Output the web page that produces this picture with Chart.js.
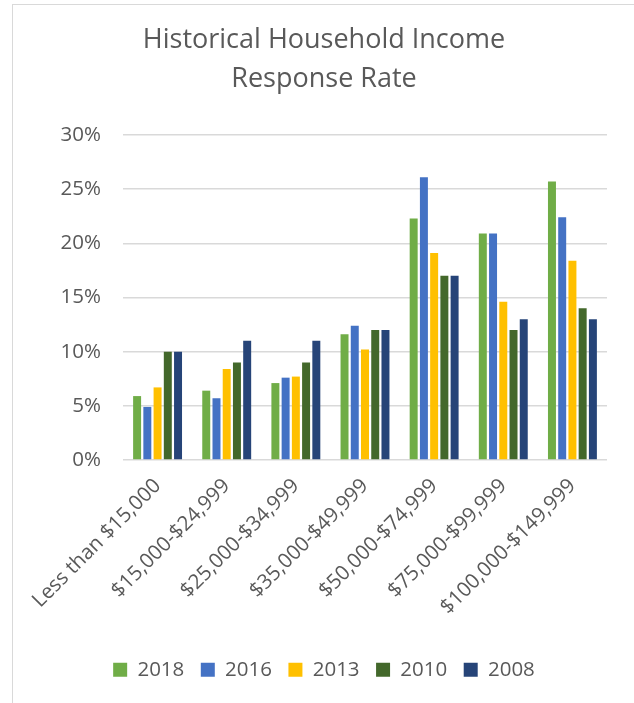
<!DOCTYPE html>
<html>
<head>
<meta charset="utf-8">
<title>Historical Household Income Response Rate</title>
<script src="https://cdn.jsdelivr.net/npm/chart.js@4"></script>
<style>
  html, body { margin: 0; padding: 0; background: #fff; }
  #wrap { position: relative; width: 634px; height: 703px; overflow: hidden; }
  #frame { position: absolute; left: 12px; top: 4px; width: 700px; height: 760px; border: 1px solid #d9d9d9; box-sizing: border-box; }
  canvas { position: absolute; left: 0; top: 0; }
</style>
</head>
<body>
<div id="wrap">
  <div id="frame"></div>
  <canvas id="chart" width="634" height="703"></canvas>
</div>
<script>
const incomeBands = [
  "Less than $15,000",
  "$15,000-$24,999",
  "$25,000-$34,999",
  "$35,000-$49,999",
  "$50,000-$74,999",
  "$75,000-$99,999",
  "$100,000-$149,999",
];

// response rate by survey year, in percent
const rate2018 = [5.9, 6.4, 7.1, 11.6, 22.3, 20.9, 25.7];
const rate2016 = [4.9, 5.7, 7.6, 12.4, 26.1, 20.9, 22.4];
const rate2013 = [6.7, 8.4, 7.7, 10.2, 19.1, 14.6, 18.4];
const rate2010 = [10.0, 9.0, 9.0, 12.0, 17.0, 12.0, 14.0];
const rate2008 = [10.0, 11.0, 11.0, 12.0, 17.0, 13.0, 13.0];

const yTicks = [0, 5, 10, 15, 20, 25, 30];

const series = [
  { label: "2018", data: rate2018, color: "#70ad47" },
  { label: "2016", data: rate2016, color: "#4472c4" },
  { label: "2013", data: rate2013, color: "#ffc000" },
  { label: "2010", data: rate2010, color: "#43682b" },
  { label: "2008", data: rate2008, color: "#264478" },
];

const FONT = "'Open Sans', 'Noto Sans', sans-serif";
const GREY = "#595959";

new Chart(document.getElementById("chart"), {
  type: "bar",
  data: {
    labels: incomeBands,
    datasets: series.map(s => ({
      label: s.label,
      data: s.data,
      backgroundColor: s.color,
      borderWidth: 0,
      categoryPercentage: 0.74,
      barPercentage: 0.78,
    })),
  },
  options: {
    responsive: false,
    animation: false,
    // left padding is wider than the frame offset so the title centres on the frame
    layout: { padding: { left: 41, top: 4, right: 27, bottom: 13 } },
    plugins: {
      title: {
        display: true,
        text: ["Historical Household Income", "Response Rate"],
        color: GREY,
        font: { family: FONT, size: 27, weight: "normal", lineHeight: 1.444 },
        padding: { top: 17, bottom: 36 },
      },
      legend: {
        position: "bottom",
        labels: {
          color: GREY,
          font: { family: FONT, size: 20.5 },
          boxWidth: 14,
          boxHeight: 14,
          padding: 16.5,
        },
      },
      tooltip: { enabled: false },
    },
    scales: {
      x: {
        afterFit: axis => { axis.height = 183; },
        grid: { display: false },
        border: { display: false },
        ticks: {
          color: GREY,
          font: { family: FONT, size: 20.5 },
          minRotation: 45,
          maxRotation: 45,
          padding: 6,
          autoSkip: false,
        },
      },
      y: {
        min: 0,
        max: 30,
        afterBuildTicks: axis => { axis.ticks = yTicks.map(v => ({ value: v })); },
        afterFit: axis => { axis.width = 82; },
        grid: { color: "#d9d9d9", lineWidth: 1.5, drawTicks: false },
        border: { display: false },
        ticks: {
          color: GREY,
          font: { family: FONT, size: 20.5 },
          padding: 22,
          callback: v => v + "%",
        },
      },
    },
  },
});
</script>
</body>
</html>
